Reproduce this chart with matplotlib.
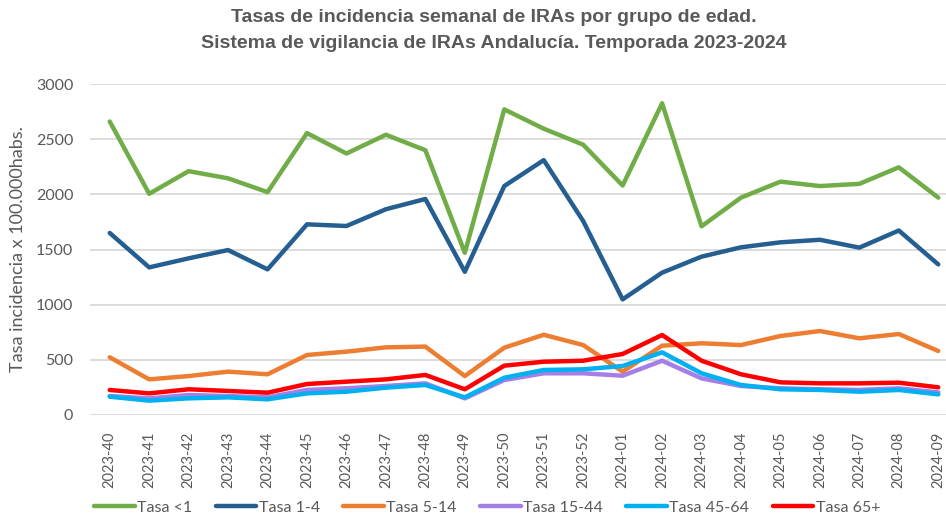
import matplotlib
matplotlib.use("Agg")
import matplotlib.pyplot as plt

semanas = ["2023-40", "2023-41", "2023-42", "2023-43", "2023-44", "2023-45", "2023-46",
           "2023-47", "2023-48", "2023-49", "2023-50", "2023-51", "2023-52", "2024-01",
           "2024-02", "2024-03", "2024-04", "2024-05", "2024-06", "2024-07", "2024-08",
           "2024-09"]

tasa_menor1 = [2660, 2005, 2210, 2145, 2020, 2555, 2370, 2540, 2400, 1470, 2770,
               2595, 2450, 2080, 2825, 1710, 1970, 2115, 2075, 2095, 2245, 1970]
tasa_1_4 = [1650, 1338, 1420, 1495, 1320, 1728, 1713, 1865, 1958, 1298, 2075,
            2310, 1758, 1048, 1290, 1435, 1520, 1565, 1588, 1517, 1672, 1365]
tasa_5_14 = [523, 323, 353, 393, 369, 544, 574, 613, 620, 353, 610,
             727, 634, 393, 628, 650, 634, 716, 761, 695, 734, 580]
tasa_15_44 = [172, 151, 181, 172, 160, 227, 242, 263, 287, 151, 317,
              378, 378, 356, 492, 332, 263, 242, 233, 227, 242, 205]
tasa_45_64 = [166, 130, 151, 160, 142, 196, 211, 248, 272, 160, 338,
              408, 414, 444, 568, 378, 272, 233, 227, 211, 227, 187]
tasa_65 = [227, 196, 233, 218, 202, 281, 302, 323, 363, 233, 447,
           483, 492, 553, 725, 492, 369, 296, 287, 287, 293, 251]

series = [
    ("Tasa <1", tasa_menor1, "#70AD47"),
    ("Tasa 1-4", tasa_1_4, "#255E91"),
    ("Tasa 5-14", tasa_5_14, "#ED7D31"),
    ("Tasa 15-44", tasa_15_44, "#A67FE6"),
    ("Tasa 45-64", tasa_45_64, "#00B0F0"),
    ("Tasa 65+", tasa_65, "#FF0000"),
]

titulo = ["Tasas de incidencia semanal de IRAs por grupo de edad.",
          "Sistema de vigilancia de IRAs Andalucía. Temporada 2023-2024"]

gris = "#595959"

fig = plt.figure(figsize=(9.46, 5.14), dpi=100)
ax = fig.add_axes([90 / 946, 99 / 514, 868 / 946, 331 / 514])

x = list(range(len(semanas)))
for nombre, vals, color in series:
    ax.plot(x, vals, color=color, lw=3.2, label=nombre, solid_capstyle="round",
            solid_joinstyle="round")

ax.set_xlim(-0.5, len(semanas) - 0.5)
ax.set_ylim(0, 3000)
ax.set_yticks(range(0, 3001, 500))
ax.set_xticks(x)
ax.set_xticklabels(semanas, rotation=90, fontsize=10.5, color=gris, family="Lato")
for lab in ax.get_yticklabels():
    lab.set_family("Lato")
ax.tick_params(axis="y", labelsize=11.5, labelcolor=gris, length=0, pad=12)
ax.tick_params(axis="x", length=0, pad=12)
ax.grid(axis="y", color="#D9D9D9", lw=1.3)
ax.set_axisbelow(True)
for s in ax.spines.values():
    s.set_visible(False)

ax.set_ylabel("Tasa incidencia x 100.000habs.", fontsize=13, color=gris,
              family="Lato", labelpad=7)

for i, linea in enumerate(titulo):
    fig.text(0.522, 1 - (18 + 25 * i) / 514, linea, ha="center", va="center",
             fontsize=14, fontweight="bold", color=gris, family="Liberation Sans")

fig.legend(loc="lower center", bbox_to_anchor=(0.515, -0.029), ncol=6, frameon=False,
           prop={"family": "Lato", "size": 11.5}, handlelength=2.55,
           columnspacing=1.45, handletextpad=0.15, labelcolor=gris)

fig.savefig("out.png", dpi=100)
